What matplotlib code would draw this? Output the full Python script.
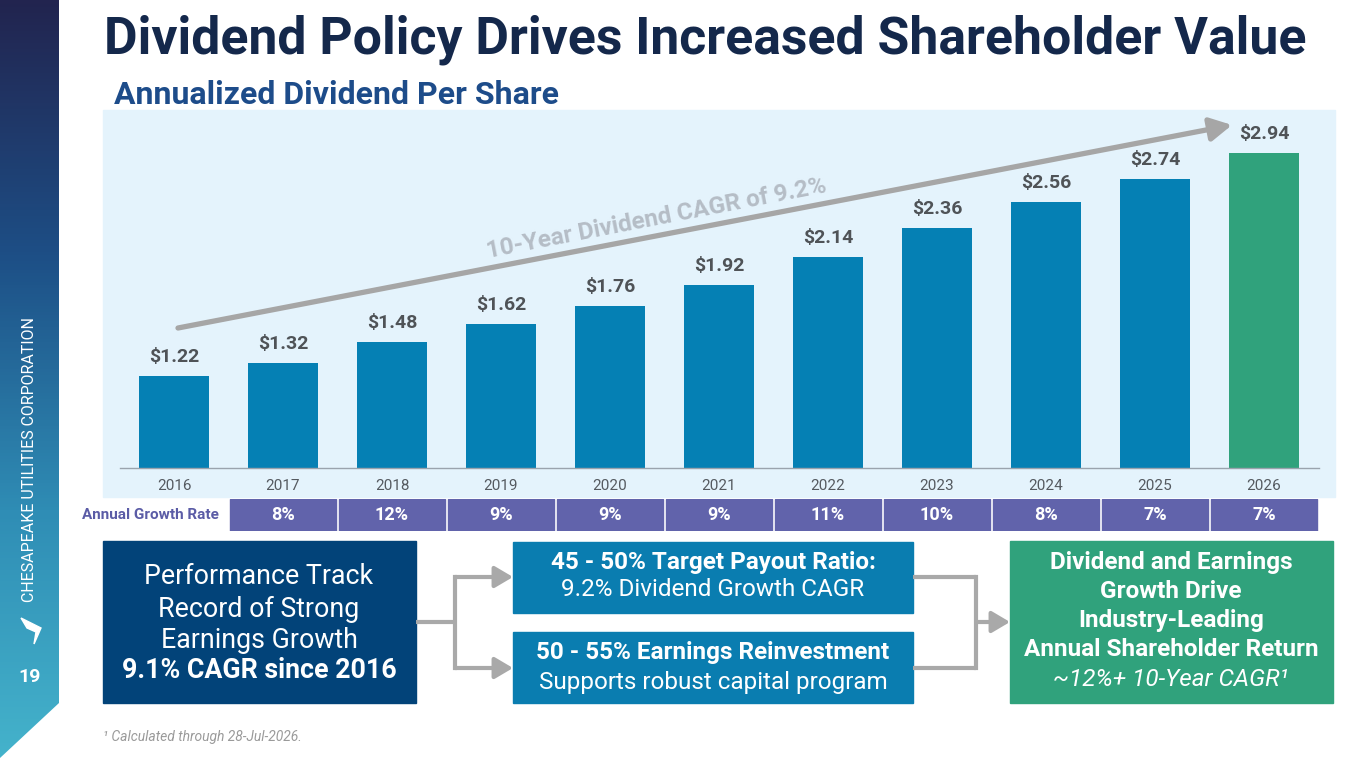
import numpy as np
import matplotlib as mpl
mpl.use('Agg')
import matplotlib.pyplot as plt
from matplotlib.patches import Rectangle, Polygon
from matplotlib.colors import LinearSegmentedColormap

# data
years = ['2016', '2017', '2018', '2019', '2020', '2021', '2022', '2023', '2024', '2025', '2026']
dividends = [1.22, 1.32, 1.48, 1.62, 1.76, 1.92, 2.14, 2.36, 2.56, 2.74, 2.94]
growth_years = years[1:]
growth_rates = ['8%', '12%', '9%', '9%', '9%', '11%', '10%', '8%', '7%', '7%']

plt.rcParams['font.family'] = ['Roboto', 'DejaVu Sans']

W, H = 1365, 768
fig = plt.figure(figsize=(W / 100, H / 100), dpi=100)
fig.patch.set_facecolor('white')

# background axes in pixel coords
bg = fig.add_axes([0, 0, 1, 1])
bg.set_xlim(0, W)
bg.set_ylim(H, 0)
bg.axis('off')

# sidebar gradient
cmap = LinearSegmentedColormap.from_list('side', ['#22244f', '#1d4f86', '#2f8db5', '#45b4cc'])
grad = np.linspace(0, 1, 256).reshape(-1, 1)
im = bg.imshow(grad, cmap=cmap, extent=[0, 59, H, 0], aspect='auto', zorder=1)
clip = Polygon([(0, 0), (59, 0), (59, 703), (0, 758)], closed=True, transform=bg.transData)
im.set_clip_path(clip)
bg.text(30, 460, 'CHESAPEAKE UTILITIES CORPORATION', rotation=90, color='white',
        fontsize=11.5, ha='center', va='center', zorder=3)
bg.add_patch(Polygon([(21, 618), (41, 628), (34, 644), (36, 632), (27, 628)],
                     closed=True, color='white', zorder=3))
bg.text(30, 677, '19', color='white', fontsize=14, fontweight='bold',
        ha='center', va='center', zorder=3)

# titles
bg.text(104, 40, 'Dividend Policy Drives Increased Shareholder Value', color='#14284b',
        fontsize=37.3, fontweight='bold', ha='left', va='center')
bg.text(114, 95, 'Annualized Dividend Per Share', color='#1d4c8a',
        fontsize=23, fontweight='bold', ha='left', va='center')

# chart panel
bg.add_patch(Rectangle((103, 110), 1232, 387, color='#e4f3fc', zorder=0))

# bar axes
ax = fig.add_axes([119.5 / W, (H - 468) / H, 1199 / W, 358 / H])
ax.set_facecolor('none')
x = np.arange(len(years))
colors = ['#0580b4'] * (len(years) - 1) + ['#30a27c']
ax.bar(x, dividends, width=0.64, color=colors, zorder=2)
ax.set_xlim(-0.5, len(years) - 0.5)
ax.set_ylim(0.51, 3.27)
for xi, v in zip(x, dividends):
    ax.annotate('${:.2f}'.format(v), (xi, v), xytext=(0, 7), textcoords='offset points',
                ha='center', va='bottom', fontsize=14, fontweight='bold', color='#4f5357')
ax.set_xticks(x)
ax.set_xticklabels(years, fontsize=11, color='#555a60')
ax.tick_params(axis='x', length=0, pad=8)
ax.set_yticks([])
for s in ['top', 'right', 'left']:
    ax.spines[s].set_visible(False)
ax.spines['bottom'].set_color('#9aa3ad')
ax.spines['bottom'].set_linewidth(1)

# CAGR arrow and label
bg.annotate('', xy=(1232, 125), xytext=(178, 328),
            arrowprops=dict(arrowstyle='-|>,head_length=1.3,head_width=0.7', color='#a6a6a6',
                            lw=3.8, shrinkA=0, shrinkB=0), zorder=4)
bg.text(656, 219, '10-Year Dividend CAGR of 9.2%', rotation=11, rotation_mode='anchor',
        color='#b5bdc6', fontsize=17.5, fontweight='bold', ha='center', va='center', zorder=4)

# growth rate row
gx = fig.add_axes([119.5 / W, (H - 531) / H, 1199 / W, 32 / H])
gx.set_xlim(-0.5, len(years) - 0.5)
gx.set_ylim(0, 1)
gx.axis('off')
for yr, rate in zip(growth_years, growth_rates):
    i = years.index(yr)
    gx.add_patch(Rectangle((i - 0.486, 0), 0.972, 1, color='#6163ab'))
    gx.text(i, 0.5, rate, color='white', fontsize=13, fontweight='bold', ha='center', va='center')
bg.text(219, 515, 'Annual Growth Rate', color='#5b5ca6', fontsize=11, fontweight='bold',
        ha='right', va='center')

# flow boxes
bg.add_patch(Rectangle((103, 541), 313, 162, color='#024379'))
for yy, t in zip([577, 609, 640], ['Performance Track', 'Record of Strong', 'Earnings Growth']):
    bg.text(259, yy, t, color='white', fontsize=19.3, ha='center', va='center')
bg.text(259, 671, '9.1% CAGR since 2016', color='white', fontsize=19.3, fontweight='bold',
        ha='center', va='center')

bg.add_patch(Rectangle((513, 542), 400, 71, color='#0a7db0'))
bg.text(713, 562, '45 - 50% Target Payout Ratio:', color='white', fontsize=17.5,
        fontweight='bold', ha='center', va='center')
bg.text(713, 590, '9.2% Dividend Growth CAGR', color='white', fontsize=17.5,
        ha='center', va='center')
bg.add_patch(Rectangle((513, 632), 400, 71, color='#0a7db0'))
bg.text(713, 653, '50 - 55% Earnings Reinvestment', color='white', fontsize=17.5,
        fontweight='bold', ha='center', va='center')
bg.text(713, 682, 'Supports robust capital program', color='white', fontsize=17.5,
        ha='center', va='center')

bg.add_patch(Rectangle((1010, 541), 323, 162, color='#30a27c'))
for yy, t in zip([563, 592, 621, 650], ['Dividend and Earnings', 'Growth Drive',
                                         'Industry-Leading', 'Annual Shareholder Return']):
    bg.text(1171, yy, t, color='white', fontsize=17.5, fontweight='bold', ha='center', va='center')
bg.text(1171, 679, '~12%+ 10-Year CAGR¹', color='white', fontsize=17.5, style='italic',
        ha='center', va='center')

# connectors
cc = '#a9a9a9'
bg.plot([416, 455], [622, 622], color=cc, lw=3, solid_capstyle='butt')
bg.plot([455, 455], [577, 668], color=cc, lw=3, solid_capstyle='projecting')
for yy in [577, 668]:
    bg.annotate('', xy=(513, yy), xytext=(455, yy),
                arrowprops=dict(arrowstyle='-|>,head_length=1.1,head_width=0.65', color=cc,
                                lw=3, shrinkA=0, shrinkB=0))
bg.plot([913, 976], [577, 577], color=cc, lw=3, solid_capstyle='butt')
bg.plot([913, 976], [668, 668], color=cc, lw=3, solid_capstyle='butt')
bg.plot([976, 976], [577, 668], color=cc, lw=3, solid_capstyle='projecting')
bg.annotate('', xy=(1010, 622), xytext=(976, 622),
            arrowprops=dict(arrowstyle='-|>,head_length=1.1,head_width=0.65', color=cc,
                            lw=3, shrinkA=0, shrinkB=0))

# footnote
bg.text(103, 737, '¹ Calculated through 28-Jul-2026.', color='#9a9a9a', fontsize=10,
        style='italic', ha='left', va='center')

fig.savefig('out.png', dpi=100)
